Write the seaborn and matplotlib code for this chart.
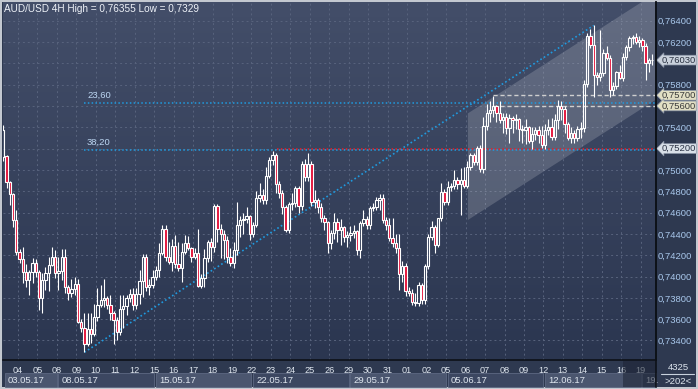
import numpy as np
import matplotlib
matplotlib.use("Agg")
import matplotlib.pyplot as plt
import matplotlib.transforms as mtrans
from matplotlib.colors import LinearSegmentedColormap
from matplotlib.patches import Rectangle, Polygon
from matplotlib.lines import Line2D
import seaborn as sns

# AUD/USD 4H candles, 03.05.17 - 19.06.17
opens = [
    .7512, .7513, .7489, .7477, .7453, .7423, .7416, .7404, .7397, .7404,
    .7413, .7404, .7380, .7397, .7403, .7411, .7418, .7403, .7405, .7418,
    .7390, .7385, .7388, .7393, .7357, .7352, .7337, .7351, .7346, .7362,
    .7373, .7378, .7380, .7373, .7366, .7359, .7348, .7370, .7372, .7380,
    .7384, .7373, .7384, .7396, .7418, .7390, .7392, .7400, .7406, .7422,
    .7445, .7418, .7414, .7429, .7412, .7408, .7423, .7431, .7427, .7418,
    .7422, .7391, .7399, .7417, .7432, .7428, .7466, .7445, .7440, .7434,
    .7418, .7413, .7425, .7448, .7453, .7454, .7457, .7440, .7448, .7474,
    .7476, .7472, .7494, .7509, .7514, .7487, .7478, .7465, .7444, .7468,
    .7469, .7483, .7466, .7506, .7493, .7506, .7470, .7472, .7465, .7455,
    .7451, .7431, .7441, .7451, .7444, .7446, .7437, .7439, .7441, .7443,
    .7425, .7450, .7454, .7448, .7464, .7465, .7472, .7474, .7453, .7448,
    .7436, .7431, .7427, .7402, .7410, .7386, .7385, .7376, .7375, .7392,
    .7378, .7410, .7437, .7446, .7430, .7455, .7479, .7470, .7484, .7485,
    .7491, .7487, .7491, .7485, .7503, .7514, .7507, .7521, .7501, .7541,
    .7553, .7556, .7560, .7553, .7547, .7550, .7539, .7549, .7547, .7548,
    .7538, .7537, .7540, .7527, .7534, .7537, .7533, .7523, .7537, .7540,
    .7531, .7547, .7560, .7557, .7543, .7530, .7535, .7530, .7538, .7539,
    .7581, .7626, .7617, .7589, .7587, .7591, .7610, .7605, .7575, .7579,
    .7592, .7586, .7606, .7615, .7624, .7625, .7620, .7622, .7616, .7600,
    .7603,
]
highs = [
    .7542, .7514, .7490, .7478, .7462, .7426, .7428, .7412, .7406, .7417,
    .7416, .7406, .7403, .7409, .7418, .7428, .7425, .7418, .7426, .7426,
    .7392, .7398, .7400, .7398, .7360, .7366, .7366, .7366, .7374, .7389,
    .7392, .7398, .7382, .7383, .7368, .7362, .7383, .7383, .7383, .7388,
    .7389, .7389, .7406, .7421, .7421, .7398, .7406, .7410, .7431, .7448,
    .7448, .7432, .7435, .7439, .7432, .7431, .7439, .7438, .7428, .7427,
    .7445, .7402, .7426, .7434, .7436, .7468, .7468, .7449, .7444, .7438,
    .7427, .7432, .7470, .7457, .7460, .7465, .7458, .7451, .7480, .7488,
    .7482, .7503, .7512, .7518, .7516, .7490, .7481, .7467, .7470, .7478,
    .7485, .7485, .7508, .7510, .7516, .7508, .7481, .7474, .7469, .7458,
    .7452, .7444, .7460, .7455, .7454, .7447, .7443, .7447, .7448, .7444,
    .7452, .7462, .7457, .7466, .7469, .7475, .7477, .7477, .7456, .7455,
    .7455, .7440, .7440, .7415, .7413, .7390, .7388, .7385, .7395, .7394,
    .7412, .7440, .7452, .7448, .7455, .7488, .7482, .7490, .7488, .7500,
    .7493, .7502, .7503, .7508, .7516, .7516, .7522, .7523, .7550, .7562,
    .7565, .7569, .7561, .7565, .7553, .7553, .7552, .7551, .7552, .7549,
    .7542, .7548, .7541, .7540, .7540, .7541, .7541, .7543, .7548, .7549,
    .7552, .7566, .7565, .7560, .7545, .7540, .7537, .7541, .7545, .7584,
    .7628, .7632, .76355, .7592, .7631, .7613, .7616, .7608, .7582, .7593,
    .7598, .7610, .7617, .7626, .7627, .7628, .7626, .7624, .7619, .7605,
    .7609,
]
lows = [
    .7508, .7483, .7467, .7446, .7420, .7413, .7394, .7390, .7383, .7394,
    .7400, .7369, .7366, .7387, .7386, .7410, .7399, .7387, .7397, .7385,
    .7378, .7381, .7383, .7356, .7348, .7329, .7335, .7338, .7344, .7358,
    .7371, .7371, .7370, .7359, .7337, .7340, .7345, .7352, .7364, .7376,
    .7369, .7370, .7374, .7381, .7386, .7383, .7389, .7397, .7400, .7420,
    .7415, .7412, .7405, .7408, .7405, .7395, .7421, .7425, .7414, .7416,
    .7390, .7389, .7390, .7414, .7415, .7423, .7432, .7417, .7416, .7413,
    .7410, .7408, .7420, .7437, .7440, .7450, .7434, .7437, .7446, .7470,
    .7468, .7468, .7492, .7505, .7478, .7474, .7459, .7442, .7441, .7462,
    .7465, .7460, .7462, .7490, .7490, .7466, .7464, .7460, .7451, .7444,
    .7422, .7426, .7435, .7432, .7430, .7432, .7428, .7433, .7436, .7420,
    .7417, .7447, .7445, .7445, .7461, .7462, .7462, .7450, .7444, .7433,
    .7428, .7422, .7387, .7395, .7382, .7382, .7373, .7372, .7372, .7374,
    .7374, .7407, .7434, .7422, .7428, .7452, .7467, .7467, .7480, .7482,
    .7482, .7458, .7483, .7483, .7500, .7505, .7505, .7498, .7497, .7537,
    .7545, .7550, .7545, .7544, .7535, .7534, .7525, .7535, .7538, .7527,
    .7525, .7524, .7525, .7520, .7528, .7525, .7521, .7520, .7533, .7528,
    .7528, .7538, .7547, .7535, .7528, .7525, .7525, .7527, .7530, .7536,
    .7578, .7614, .7568, .7580, .7583, .7588, .7603, .7568, .7570, .7576,
    .7585, .7583, .7603, .7612, .7618, .7618, .7615, .7612, .7584, .7592,
    .7598,
]
closes = [
    .7537, .7489, .7477, .7453, .7423, .7416, .7404, .7397, .7404, .7413,
    .7404, .7380, .7397, .7403, .7411, .7418, .7403, .7405, .7418, .7390,
    .7385, .7388, .7393, .7357, .7352, .7337, .7351, .7346, .7362, .7373,
    .7378, .7380, .7373, .7366, .7359, .7348, .7370, .7372, .7380, .7384,
    .7373, .7384, .7396, .7418, .7390, .7392, .7400, .7406, .7422, .7445,
    .7418, .7414, .7429, .7412, .7408, .7423, .7431, .7427, .7418, .7422,
    .7391, .7399, .7417, .7432, .7428, .7466, .7445, .7440, .7434, .7418,
    .7413, .7425, .7448, .7453, .7454, .7457, .7440, .7448, .7474, .7476,
    .7472, .7494, .7509, .7514, .7487, .7478, .7465, .7444, .7468, .7469,
    .7483, .7466, .7506, .7493, .7506, .7470, .7472, .7465, .7455, .7451,
    .7431, .7441, .7451, .7444, .7446, .7437, .7439, .7441, .7443, .7425,
    .7450, .7454, .7448, .7464, .7465, .7472, .7474, .7453, .7448, .7436,
    .7431, .7427, .7402, .7410, .7386, .7385, .7376, .7375, .7392, .7378,
    .7410, .7437, .7446, .7430, .7455, .7479, .7470, .7484, .7485, .7491,
    .7487, .7491, .7485, .7503, .7514, .7507, .7521, .7501, .7541, .7553,
    .7556, .7560, .7553, .7547, .7550, .7539, .7549, .7547, .7548, .7538,
    .7537, .7540, .7527, .7534, .7537, .7533, .7523, .7537, .7540, .7531,
    .7547, .7560, .7557, .7543, .7530, .7535, .7530, .7538, .7539, .7581,
    .7626, .7617, .7589, .7587, .7591, .7610, .7605, .7575, .7579, .7592,
    .7586, .7606, .7615, .7624, .7625, .7620, .7622, .7616, .7600, .7603,
    .7603,
]

day_labels = ["04", "05", "08", "09", "10", "11", "12", "15", "16", "17", "18",
              "19", "22", "23", "24", "25", "26", "29", "30", "31", "01", "02",
              "05", "06", "07", "08", "09", "12", "13", "14", "15", "16", "19"]
week_labels = ["03.05.17", "08.05.17", "15.05.17", "22.05.17", "29.05.17",
               "05.06.17", "12.06.17", "19."]
week_first_day = [0, 3, 8, 13, 18, 23, 28, 33]   # day number of each week start

fib_levels = [0.7563, 0.7519]
fib_names = ["23,60", "38,20"]
red_level = 0.7520
box_levels = [0.7570, 0.7560]
last_price = 0.7603
channel_left = [0.7453, 0.7553]    # lower / upper edge at the left side
channel_right = [0.7566, 0.7666]   # lower / upper edge at the right side

BARS_PER_DAY = 6
W, H = 698, 389

sns.set_theme(style="dark")
plt.rcParams["font.family"] = ["Liberation Sans", "DejaVu Sans"]

fig = plt.figure(figsize=(W / 100, H / 100), dpi=100)
fig.patch.set_facecolor("#c3c8d0")
fig.add_artist(Rectangle((2 / W, 2 / H), 694 / W, 385 / H, transform=fig.transFigure,
                         fc="#2e3950", ec="none", zorder=-1))

ax = fig.add_axes([3 / W, 29 / H, 653 / W, 358 / H])
bg = LinearSegmentedColormap.from_list("bg", ["#2b3650", "#434e69"])
ax.imshow(np.linspace(1, 0, 256)[:, None], cmap=bg, aspect="auto",
          extent=[0, 1, 0, 1], transform=ax.transAxes, zorder=0)

o = np.array(opens); h = np.array(highs); l = np.array(lows); c = np.array(closes)
idx = np.arange(len(c))
x_right = len(c) + 0.2
ax.set_xlim(-0.1, x_right)
ax.set_ylim(0.73217, 0.76575)

# channel
ch_x0 = 143.2
ax.add_patch(Polygon([(ch_x0, channel_left[1]), (x_right, channel_right[1]),
                      (x_right, channel_right[0]), (ch_x0, channel_left[0])],
                     closed=True, fc="white", alpha=0.17, ec="none", zorder=1))

# trend line from the low to the high
i_lo, i_hi = int(np.argmin(l)), int(np.argmax(h))
sns.lineplot(x=[i_lo, i_hi], y=[l[i_lo], h[i_hi]], ax=ax, color="#1f9be0",
             linewidth=1.2, linestyle=(0, (1, 1.5)), zorder=2)

# fibonacci levels
for lev, name in zip(fib_levels, fib_names):
    ax.hlines(lev, i_lo, x_right, color="#1f9be0", lw=1.1, ls=(0, (1, 1.5)), zorder=2)
    ax.annotate(name, (i_lo + 0.8, lev), xytext=(0, 2), textcoords="offset points",
                va="bottom", ha="left", fontsize=6.8, color="#bcd6f2", zorder=6)

# horizontal resistance from the 23.05 peak
red_start = 50 + int(np.argmax(h[50:100]))
ax.hlines(red_level, red_start + 1.5, x_right, color="#e5202c", lw=1.1,
          ls=(0, (1, 1.5)), zorder=2)
ax.hlines(box_levels, 151, x_right, color="#cfcfcf", lw=1.0, ls=(0, (3, 2)), zorder=2)

# candles
top = np.maximum(o, c); bot = np.minimum(o, c)
ax.vlines(idx, top, h, color="white", lw=0.8, zorder=3)
ax.vlines(idx, l, bot, color="white", lw=0.8, zorder=3)
bear = c < o
ax.bar(idx, np.maximum(top - bot, 0.00004), bottom=bot, width=0.7,
       color=np.where(bear, "#e3123a", "none"), edgecolor="white",
       linewidth=0.8, zorder=4)

# axes / grid
yt = np.round(np.arange(0.734, 0.7641, 0.002), 3)
hidden = {0.760, 0.756, 0.752}
ylabels = ["" if v in hidden else f"{v:.5f}".replace(".", ",") for v in yt]
ax.yaxis.tick_right()
ax.set_yticks(yt, ylabels)
day_pos = [BARS_PER_DAY * (d + 1) - 1.5 for d in range(len(day_labels))]
ax.set_xticks(day_pos, day_labels)
ax.tick_params(axis="y", length=0, pad=1.5, labelsize=6.8, labelcolor="#a9c8ec")
ax.tick_params(axis="x", length=0, pad=4, labelsize=6.6, labelcolor="#dfe6ef")
ax.grid(True, color="#58637d", linestyle=(0, (2, 3)), linewidth=0.7)
for s in ["top", "left"]:
    ax.spines[s].set_visible(False)
for s in ["right", "bottom"]:
    ax.spines[s].set_color("#0d1118")
    ax.spines[s].set_linewidth(1.2)

# price boxes on the right scale
ty = mtrans.blended_transform_factory(ax.transAxes, ax.transData)
boxes = [(last_price, "#c9d1dc", "#2a3242"), (box_levels[0], "#e2dfc4", "#3a3a3a"),
         (box_levels[1], "#e2dfc4", "#3a3a3a"), (red_level, "#d9e0e8", "#2c3446")]
for val, fc, tc in boxes:
    ax.annotate(f"{val:.5f}".replace(".", ","), (1.0, val), xycoords=ty,
                xytext=(4, 0), textcoords="offset points", ha="left", va="center",
                fontsize=6.8, color=tc, annotation_clip=False,
                bbox=dict(boxstyle="larrow,pad=0.04", fc=fc, ec="#8c96a8", lw=0.5))

# week boxes on the time scale
tx = mtrans.blended_transform_factory(ax.transData, ax.transAxes)
starts = [-0.1] + [BARS_PER_DAY * d - 1.5 for d in week_first_day[1:]]
ends = starts[1:] + [x_right]
for k, (lab, s0, s1) in enumerate(zip(week_labels, starts, ends)):
    ax.add_patch(Rectangle((s0 + 0.5, -0.0754), s1 - s0 - 0.5, 0.039, transform=tx,
                           clip_on=False, fc="#4b566f" if k % 2 == 0 else "#3c4761",
                           ec="#5d6882", lw=0.6, zorder=3))
    ax.text(s0 + 1.5, -0.056, lab, transform=tx, fontsize=6.8, color="#dfe6ef",
            va="center", ha="left", zorder=4, clip_on=False)
ax.add_patch(Rectangle((191, -0.0754), x_right - 191, 0.073, transform=tx,
                       clip_on=False, fc="#1c2333", alpha=0.55, ec="none", zorder=5))

fig.add_artist(Line2D([656 / W] * 2, [2 / H, 387 / H], color="#0d1118", lw=1.2))
fig.text(4 / W, 1 - 9 / H, "AUD/USD 4H High = 0,76355 Low = 0,7329",
         fontsize=7.2, color="#eef2f8", va="center", ha="left")
fig.text(678 / W, 1 - 368 / H, "4325", fontsize=6.8, color="#dde5ee",
         ha="center", va="center")
fig.add_artist(Line2D([661 / W, 694 / W], [1 - 374 / H] * 2, color="#c8d2de", lw=0.8))
fig.text(678 / W, 1 - 381 / H, ">202<", fontsize=6.8, color="#dde5ee",
         ha="center", va="center")

fig.savefig("out.png", dpi=100, facecolor=fig.get_facecolor())
